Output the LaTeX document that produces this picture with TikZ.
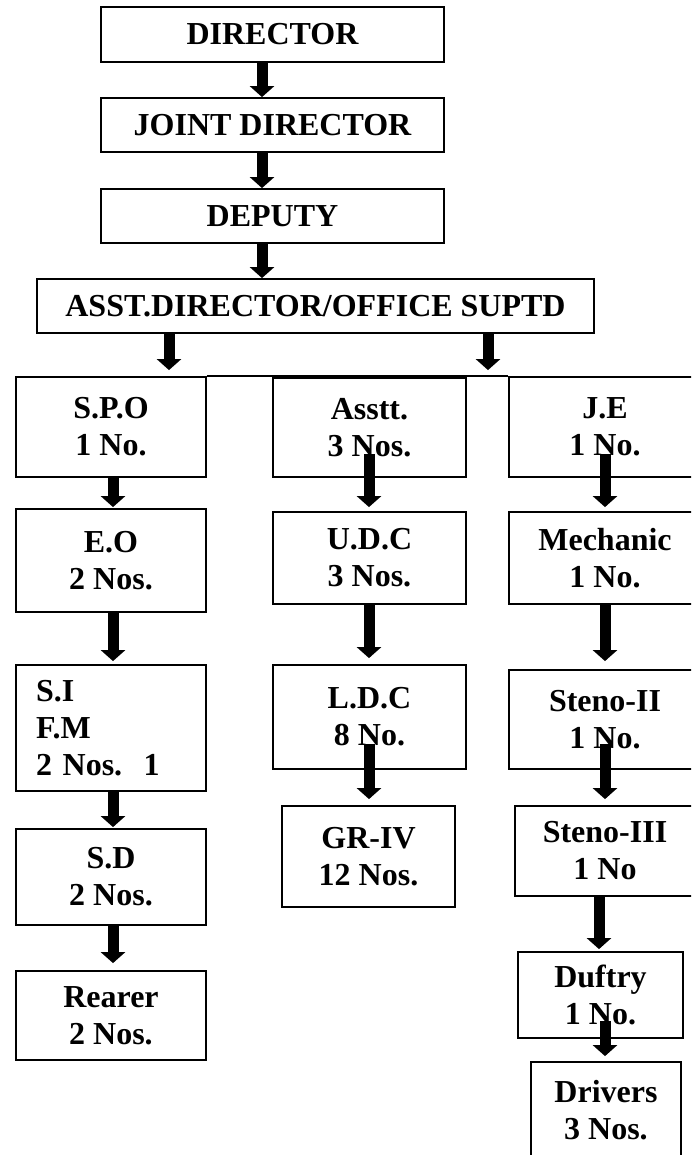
\documentclass[tikz,border=0pt]{standalone}
\usepackage{fontspec}
\setmainfont{Liberation Serif}
\usetikzlibrary{arrows.meta,calc}
\begin{document}
\begin{tikzpicture}[x=1pt,y=-1pt,
  box/.style={draw,line width=1.8pt,inner sep=0pt,align=center,
    font=\bfseries\fontsize{32}{37}\selectfont},
  arr/.style={line width=11pt,-{Triangle[width=24pt,length=11pt]}},
  bar/.style={line width=1.8pt}]
\useasboundingbox (0,0) rectangle (691,1155);
\clip (0,0) rectangle (691,1155);
\coordinate (c262) at (262,0);
\coordinate (c169) at (169,0);
\coordinate (c488) at (488,0);
\coordinate (c113) at (113,0);
\coordinate (c369) at (369,0);
\coordinate (c605) at (605,0);
\coordinate (c599) at (599,0);
% top chain
\node[box,minimum width=343pt,minimum height=55pt] (dir) at (272.5,34.5) {DIRECTOR};
\node[box,minimum width=343pt,minimum height=54pt] (joint) at (272.5,125) {JOINT DIRECTOR};
\node[box,minimum width=343pt,minimum height=54pt] (deputy) at (272.5,216) {DEPUTY};
\node[box,minimum width=557pt,minimum height=54pt] (asst) at (315.5,306) {ASST.DIRECTOR/OFFICE SUPTD};
% left column
\node[box,minimum width=190pt,minimum height=100pt] (spo) at (111,427) {S.P.O\\1 No.};
\node[box,minimum width=190pt,minimum height=103pt] (eo) at (111,560.5) {E.O\\2 Nos.};
\node[box,minimum height=126pt,text width=150pt,inner xsep=20pt,align=left] (si) at (111,728) {S.I\\F.M\\2 Nos.\ \ 1};
\node[box,minimum width=190pt,minimum height=96pt] (sd) at (111,877) {S.D\\2 Nos.};
\node[box,minimum width=190pt,minimum height=89pt] (rearer) at (111,1015.5) {Rearer\\2 Nos.};
% middle column
\node[box,minimum width=193pt,minimum height=99pt] (asstt) at (369.5,427.5) {Asstt.\\3 Nos.};
\node[box,minimum width=193pt,minimum height=92pt] (udc) at (369.5,558) {U.D.C\\3 Nos.};
\node[box,minimum width=193pt,minimum height=104pt] (ldc) at (369.5,717) {L.D.C\\8 No.};
\node[box,minimum width=173pt,minimum height=101pt] (griv) at (368.5,856.5) {GR-IV\\12 Nos.};
% right column
\node[box,minimum width=192pt,minimum height=100pt] (je) at (605,427) {J.E\\1 No.};
\node[box,minimum width=192pt,minimum height=92pt] (mech) at (605,558) {Mechanic\\1 No.};
\node[box,minimum width=192pt,minimum height=99pt] (steno2) at (605,719.5) {Steno-II\\1 No.};
\node[box,minimum width=180pt,minimum height=90pt] (steno3) at (605,851) {Steno-III\\1 No};
\node[box,minimum width=165pt,minimum height=86pt] (duftry) at (600.5,995) {Duftry\\1 No.};
\node[box,minimum width=150pt,minimum height=96pt] (drivers) at (606,1110) {Drivers\\3 Nos.};
% branch bar
\draw[bar] (spo.north east) -- (je.north west);
% arrows
\draw[arr] (dir.south -| c262) -- (joint.north -| c262);
\draw[arr] (joint.south -| c262) -- (deputy.north -| c262);
\draw[arr] (deputy.south -| c262) -- (asst.north -| c262);
\draw[arr,shorten >=6pt] (asst.south -| c169) -- (spo.north -| c169);
\draw[arr,shorten >=6pt] (asst.south -| c488) -- (je.north -| c488);
\draw[arr,shorten >=1pt] (spo.south -| c113) -- (eo.north -| c113);
\draw[arr,shorten >=3pt] (eo.south -| c113) -- (si.north -| c113);
\draw[arr,shorten >=1pt] (si.south -| c113) -- (sd.north -| c113);
\draw[arr,shorten >=7pt] (sd.south -| c113) -- (rearer.north -| c113);
\draw[arr,shorten >=4pt] ($(asstt.south -| c369)+(0,-24)$) -- (udc.north -| c369);
\draw[arr,shorten >=6pt] (udc.south -| c369) -- (ldc.north -| c369);
\draw[arr,shorten >=6pt] ($(ldc.south -| c369)+(0,-26)$) -- (griv.north -| c369);
\draw[arr,shorten >=4pt] ($(je.south -| c605)+(0,-24)$) -- (mech.north -| c605);
\draw[arr,shorten >=8pt] (mech.south -| c605) -- (steno2.north -| c605);
\draw[arr,shorten >=6pt] ($(steno2.south -| c605)+(0,-26)$) -- (steno3.north -| c605);
\draw[arr,shorten >=2pt] (steno3.south -| c599) -- (duftry.north -| c599);
\draw[arr,shorten >=5pt] ($(duftry.south -| c605)+(0,-18)$) -- (drivers.north -| c605);
\end{tikzpicture}
\end{document}
